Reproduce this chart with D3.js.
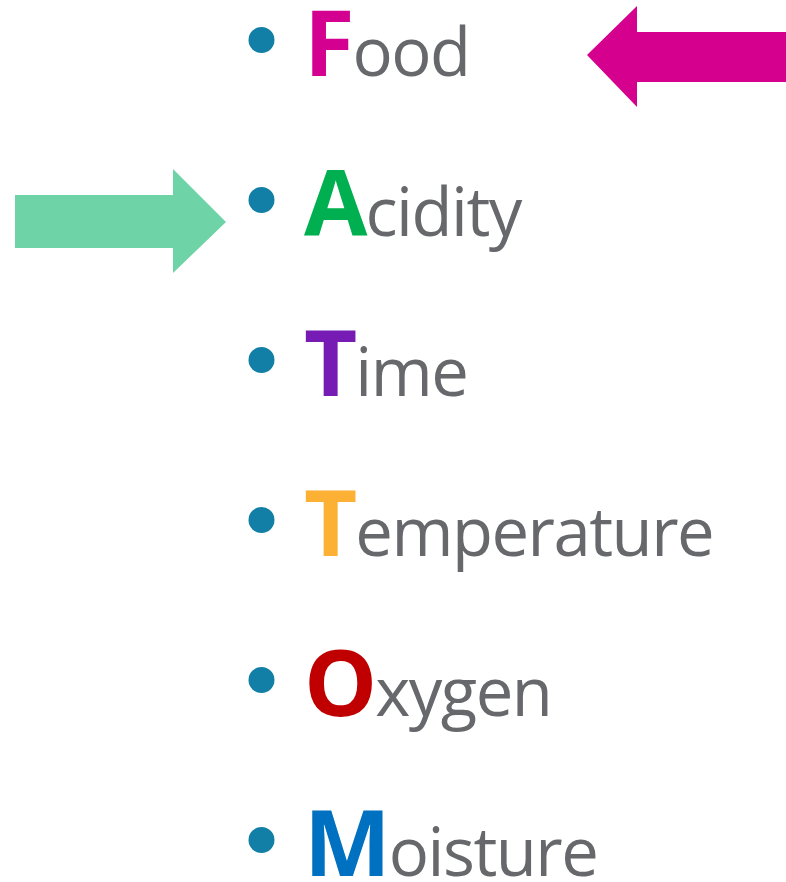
<!DOCTYPE html>
<html>
<head>
<meta charset="utf-8">
<script src="https://cdn.jsdelivr.net/npm/d3@7"></script>
<style>
  html, body { margin: 0; padding: 0; background: #fff; }
</style>
</head>
<body>
<div id="chart"></div>
<script>
// the FAT TOM list
const words = ["Food", "Acidity", "Time", "Temperature", "Oxygen", "Moisture"];
const initials = ["F", "A", "T", "T", "O", "M"];
const rests = ["ood", "cidity", "ime", "emperature", "xygen", "oisture"];
const initialColors = ["#d4008f", "#00b050", "#761cb5", "#fcb034", "#c00000", "#0070c0"];

// arrows pointing at rows
const arrowRows = ["Food", "Acidity"];
const arrowDirs = ["left", "right"];
const arrowColors = ["#d6008f", "#6fd3a8"];

const width = 786, height = 882;

const svg = d3.select("#chart")
  .append("svg")
  .attr("width", width)
  .attr("height", height);

// one row per word
const y = d3.scalePoint()
  .domain(words)
  .range([40, 840]);

const rows = svg.selectAll("g.row")
  .data(words)
  .enter()
  .append("g")
  .attr("class", "row")
  .attr("transform", d => "translate(0," + y(d) + ")");

// bullets
rows.append("circle")
  .attr("cx", 261.5)
  .attr("cy", 0)
  .attr("r", 13)
  .attr("fill", "#127fa6");

const label = rows.append("text")
  .attr("x", 304)
  .attr("y", 36)
  .style("font-family", "'Open Sans', sans-serif");

label.append("tspan")
  .style("font-size", "92px")
  .style("font-weight", "bold")
  .attr("fill", (d, i) => initialColors[i])
  .text((d, i) => initials[i]);

label.append("tspan")
  .style("font-size", "67px")
  .style("letter-spacing", "-1.5px")
  .attr("dx", -2)
  .attr("fill", "#67686c")
  .text((d, i) => rests[i]);

// block arrows
svg.selectAll("path.arrow")
  .data(arrowRows)
  .enter()
  .append("path")
  .attr("class", "arrow")
  .attr("fill", (d, i) => arrowColors[i])
  .attr("d", (d, i) => {
    const cy = y(d);
    if (arrowDirs[i] === "left") {
      const tip = 587, neck = 637, end = 786;
      return d3.line()([
        [tip, cy + 15], [neck, cy - 34], [neck, cy - 8], [end, cy - 8],
        [end, cy + 42], [neck, cy + 42], [neck, cy + 67]
      ]) + "Z";
    } else {
      const start = 15, neck = 173, tip = 226;
      return d3.line()([
        [start, cy - 5], [neck, cy - 5], [neck, cy - 31], [tip, cy + 22],
        [neck, cy + 73], [neck, cy + 48], [start, cy + 48]
      ]) + "Z";
    }
  });
</script>
</body>
</html>
